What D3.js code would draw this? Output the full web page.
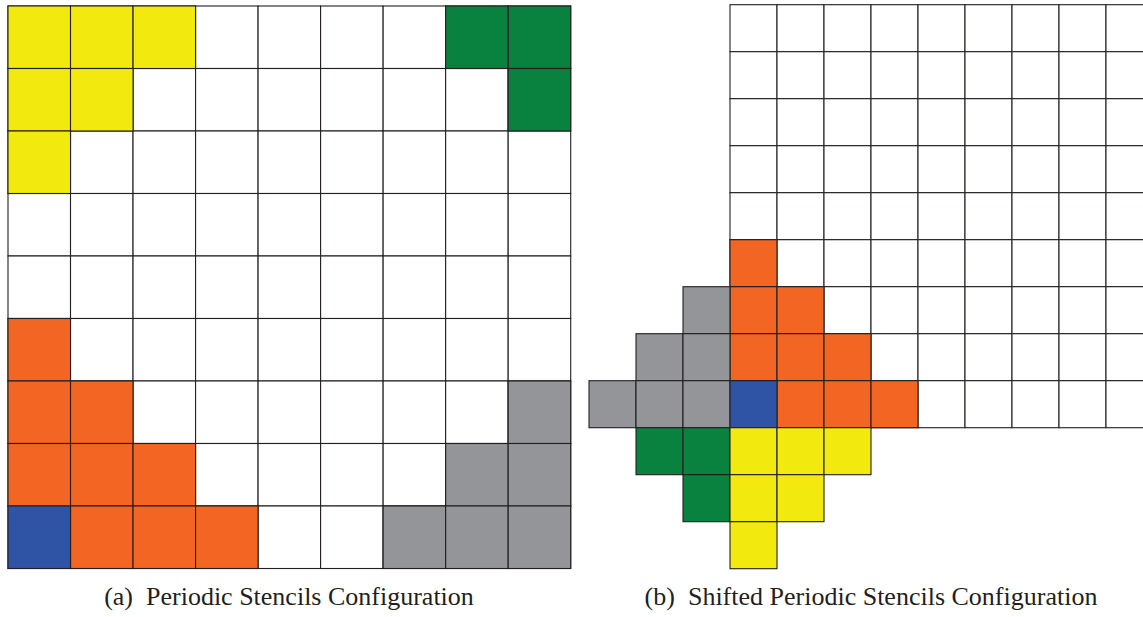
<!DOCTYPE html>
<html>
<head>
<meta charset="utf-8">
<script src="https://cdn.jsdelivr.net/npm/d3@7"></script>
<style>
  html, body { margin: 0; padding: 0; background: #fff; }
  svg { display: block; }
</style>
</head>
<body>
<svg id="chart" width="1143" height="617"></svg>
<script>
// Grid sizes (rows x cols) for both panels
const gridRows = 9;
const gridCols = 9;

// Stencil cells as [row, col] — panel (a): periodic stencils
const aYellow = [[0,0],[0,1],[0,2],[1,0],[1,1],[2,0]];
const aGreen  = [[0,7],[0,8],[1,8]];
const aOrange = [[5,0],[6,0],[6,1],[7,0],[7,1],[7,2],[8,1],[8,2],[8,3]];
const aGray   = [[6,8],[7,7],[7,8],[8,6],[8,7],[8,8]];
const aBlue   = [[8,0]];

// Panel (b): shifted periodic stencils (negative cols / rows past the grid lie outside it)
const bOrange = [[5,0],[6,0],[6,1],[7,0],[7,1],[7,2],[8,1],[8,2],[8,3]];
const bGray   = [[6,-1],[7,-2],[7,-1],[8,-3],[8,-2],[8,-1]];
const bBlue   = [[8,0]];
const bGreen  = [[9,-2],[9,-1],[10,-1]];
const bYellow = [[9,0],[9,1],[9,2],[10,0],[10,1],[11,0]];

const captions = ["(a)\u2002Periodic Stencils Configuration", "(b)\u2002Shifted Periodic Stencils Configuration"];

const colors = {
  yellow: "#f2ea0f",
  green:  "#0a823f",
  orange: "#f26522",
  gray:   "#939598",
  blue:   "#2f54a5",
  white:  "#ffffff"
};

const svg = d3.select("#chart");

function allCells() {
  const cells = [];
  for (let r = 0; r < gridRows; r++)
    for (let c = 0; c < gridCols; c++) cells.push([r, c]);
  return cells;
}

function drawPanel(g, x, y, groups) {
  const layers = [{cells: allCells(), color: colors.white}].concat(groups);
  layers.forEach(layer => {
    g.append("g").selectAll("rect")
      .data(layer.cells)
      .join("rect")
      .attr("x", d => x(d[1]))
      .attr("y", d => y(d[0]))
      .attr("width", d => x(d[1] + 1) - x(d[1]))
      .attr("height", d => y(d[0] + 1) - y(d[0]))
      .attr("fill", layer.color)
      .attr("stroke", "#231f20")
      .attr("stroke-width", 1.1);
  });
}

// Panel (a)
const xa = d3.scaleLinear().domain([0, gridCols]).range([8, 570.7]);
const ya = d3.scaleLinear().domain([0, gridRows]).range([6, 568.5]);
drawPanel(svg.append("g"), xa, ya, [
  {cells: aYellow, color: colors.yellow},
  {cells: aGreen,  color: colors.green},
  {cells: aOrange, color: colors.orange},
  {cells: aGray,   color: colors.gray},
  {cells: aBlue,   color: colors.blue}
]);

// Panel (b)
const cellB = 47;
const xb = d3.scaleLinear().domain([0, 1]).range([730, 730 + cellB]);
const yb = d3.scaleLinear().domain([0, 1]).range([4.7, 4.7 + cellB]);
drawPanel(svg.append("g"), xb, yb, [
  {cells: bOrange, color: colors.orange},
  {cells: bGray,   color: colors.gray},
  {cells: bBlue,   color: colors.blue},
  {cells: bGreen,  color: colors.green},
  {cells: bYellow, color: colors.yellow}
]);

// Captions
svg.selectAll("text.caption")
  .data(captions)
  .join("text")
  .attr("class", "caption")
  .attr("x", (d, i) => i === 0 ? 289 : 871)
  .attr("y", 605)
  .attr("text-anchor", "middle")
  .attr("font-family", "'Liberation Serif', 'Times New Roman', serif")
  .attr("font-size", 26)
  .attr("fill", "#231f20")
  .text(d => d);
</script>
</body>
</html>
